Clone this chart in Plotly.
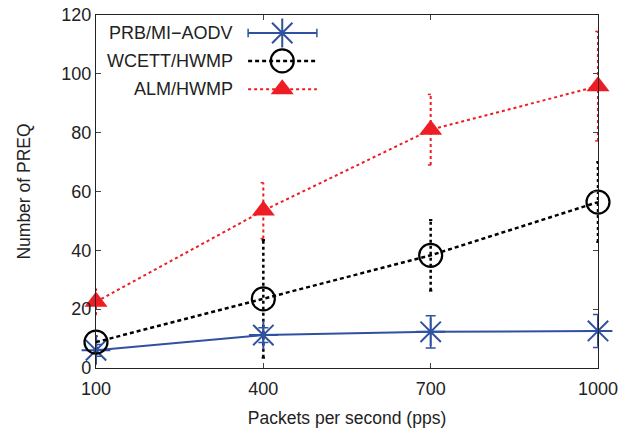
import plotly.graph_objects as go

pps = [100, 400, 700, 1000]
x_ticks = [100, 400, 700, 1000]
y_ticks = [0, 20, 40, 60, 80, 100, 120]

series_names = ["PRB/MI\u2212AODV", "WCETT/HWMP", "ALM/HWMP"]
prb = [6.0, 11.2, 12.3, 12.6]
prb_err = [2.0, 2.5, 5.5, 5.6]
wcett = [8.8, 23.5, 38.3, 56.4]
wcett_err = [2.0, 20.0, 12.0, 13.6]
alm = [22.5, 53.5, 81.0, 95.8]
alm_err = [4.5, 9.5, 12.0, 18.6]

BLUE = "#3050A0"
BLACK = "#000000"
RED = "#EE1D23"
FONT = "Liberation Sans, Arial, sans-serif"

fig = go.Figure()

def err_segments(xs, ys, es):
    ex, ey = [], []
    for x, y, e in zip(xs, ys, es):
        ex += [x, x, None]
        ey += [y - e, y + e, None]
    return ex, ey

def cap_segments(xs, ys, es, half=5):
    ex, ey = [], []
    for x, y, e in zip(xs, ys, es):
        for v in (y - e, y + e):
            ex += [x - half, x + half, None]
            ey += [v, v, None]
    return ex, ey

# error bars (drawn first)
ex, ey = err_segments(pps, alm, alm_err)
fig.add_trace(go.Scatter(x=ex, y=ey, mode="lines", line=dict(color=RED, width=2, dash="dot"),
                         showlegend=False, hoverinfo="skip", cliponaxis=False))
cx, cy = cap_segments(pps, alm, alm_err)
fig.add_trace(go.Scatter(x=cx, y=cy, mode="lines", line=dict(color=RED, width=1.5, dash="dot"),
                         showlegend=False, hoverinfo="skip", cliponaxis=False))
ex, ey = err_segments(pps, wcett, wcett_err)
fig.add_trace(go.Scatter(x=ex, y=ey, mode="lines", line=dict(color=BLACK, width=2.5, dash="3px,3px"),
                         showlegend=False, hoverinfo="skip", cliponaxis=False))
cx, cy = cap_segments(pps, wcett, wcett_err, half=3)
fig.add_trace(go.Scatter(x=cx, y=cy, mode="lines", line=dict(color=BLACK, width=2),
                         showlegend=False, hoverinfo="skip", cliponaxis=False))

# main series
fig.add_trace(go.Scatter(
    x=pps, y=prb, name=series_names[0], mode="lines+markers",
    line=dict(color=BLUE, width=2),
    marker=dict(symbol="asterisk-open", size=24, color=BLUE, line=dict(color=BLUE, width=2)),
    error_y=dict(type="data", array=prb_err, visible=True, color=BLUE, thickness=1.5, width=5),
    showlegend=False, cliponaxis=False))
fig.add_trace(go.Scatter(
    x=pps, y=wcett, name=series_names[1], mode="lines+markers",
    line=dict(color=BLACK, width=2.5, dash="4px,3px"),
    marker=dict(symbol="circle-open", size=23, color=BLACK, line=dict(color=BLACK, width=2.2)),
    showlegend=False, cliponaxis=False))
fig.add_trace(go.Scatter(
    x=pps, y=alm, name=series_names[2], mode="lines+markers",
    line=dict(color=RED, width=2, dash="dot"),
    marker=dict(symbol="triangle-up", size=20, color=RED, line=dict(width=0)),
    showlegend=False, cliponaxis=False))

# custom legend (text right, sample on the right like the original)
leg_y = [0.949, 0.870, 0.790]
leg_x0, leg_x1, leg_xm, leg_tx = 0.303, 0.440, 0.371, 0.277
styles = [
    dict(color=BLUE, width=2, dash="solid"),
    dict(color=BLACK, width=2.5, dash="4px,3px"),
    dict(color=RED, width=2, dash="dot"),
]
markers = [
    dict(symbol="asterisk-open", size=24, color=BLUE, line=dict(color=BLUE, width=2)),
    dict(symbol="circle-open", size=23, color=BLACK, line=dict(color=BLACK, width=2.2)),
    dict(symbol="triangle-up", size=20, color=RED, line=dict(width=0)),
]
for name, yy, st, mk in zip(series_names, leg_y, styles, markers):
    fig.add_trace(go.Scatter(x=[leg_x0, leg_x1], y=[yy, yy], xaxis="x2", yaxis="y2",
                             mode="lines", line=st, showlegend=False, hoverinfo="skip"))
    fig.add_trace(go.Scatter(x=[leg_xm], y=[yy], xaxis="x2", yaxis="y2",
                             mode="markers", marker=mk, showlegend=False, hoverinfo="skip"))
    fig.add_annotation(x=leg_tx, y=yy, xref="paper", yref="paper", text=name,
                       showarrow=False, xanchor="right", yanchor="middle",
                       font=dict(family=FONT, size=18, color="#222"))
# end caps on legend sample of PRB
for xc in (leg_x0, leg_x1):
    fig.add_trace(go.Scatter(x=[xc, xc], y=[leg_y[0] - 0.012, leg_y[0] + 0.012], xaxis="x2", yaxis="y2",
                             mode="lines", line=dict(color=BLUE, width=1.5), showlegend=False, hoverinfo="skip"))

fig.update_layout(
    width=620, height=429,
    margin=dict(l=96, r=22, t=15, b=61, autoexpand=False),
    paper_bgcolor="white", plot_bgcolor="white",
    font=dict(family=FONT, size=18, color="#222"),
    xaxis=dict(range=[100, 1000], tickvals=x_ticks, ticks="inside", ticklen=5, tickwidth=1,
               showline=True, linecolor="#222", linewidth=1.2, mirror="allticks", showgrid=False,
               zeroline=False, automargin=False, ticklabelstandoff=4,
               title=dict(text="Packets per second (pps)", font=dict(size=17.5), standoff=14),
               tickfont=dict(size=18)),
    yaxis=dict(range=[0, 120], tickvals=y_ticks, ticks="inside", ticklen=5, tickwidth=1,
               showline=True, linecolor="#222", linewidth=1.2, mirror="allticks", showgrid=False,
               zeroline=False, automargin=False,
               title=dict(text="Number of PREQ", font=dict(size=17.5), standoff=26),
               tickfont=dict(size=18)),
    xaxis2=dict(range=[0, 1], overlaying="x", visible=False, domain=[0, 1]),
    yaxis2=dict(range=[0, 1], overlaying="y", visible=False),
)

# remove the default page margin so the 620x429 figure fills the window exactly
fig.write_html("out.html", config={"displayModeBar": False},
               post_script="document.body.style.margin='0';document.body.style.overflow='hidden';")
